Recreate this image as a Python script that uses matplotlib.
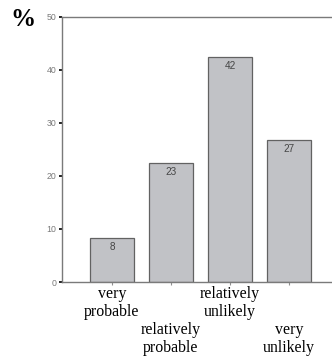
import matplotlib
matplotlib.use("Agg")
import matplotlib.pyplot as plt

categories = ["very\nprobable", "\n\nrelatively\nprobable", "relatively\nunlikely", "\n\nvery\nunlikely"]
values = [8.3, 22.4, 42.4, 26.7]
value_labels = ["8", "23", "42", "27"]
yticks = [0, 10, 20, 30, 40, 50]

fig = plt.figure(figsize=(3.32, 3.58), dpi=100)
ax = fig.add_axes([62/332, (358-282)/358, 1 - 62/332, (282-16.5)/358])

x = list(range(len(values)))
bars = ax.bar(x, values, width=0.76, color="#c1c2c6", edgecolor="#626262", linewidth=0.9)
for xi, v, lab in zip(x, values, value_labels):
    ax.text(xi, v - 1.7, lab, ha="center", va="center", fontsize=7.2,
            color="#454545", family="Liberation Sans")

ax.set_xlim(-0.847, 3.729)
ax.set_ylim(0, 50)
ax.set_yticks(yticks)
ax.set_yticklabels([str(t) for t in yticks], fontsize=6.3, color="#7a7a7a", family="Liberation Sans")
ax.set_xticks(x)
ax.set_xticklabels(categories, fontsize=11.4, family="Liberation Serif", color="black",
                   linespacing=1.15)
ax.tick_params(axis="y", length=2, width=1.2, color="black", pad=2)
ax.tick_params(axis="x", length=2, width=0.8, color="#909090", pad=1)

for s in ["left", "bottom", "top"]:
    ax.spines[s].set_color("#7a7a7a")
    ax.spines[s].set_linewidth(1.0)
ax.spines["right"].set_visible(False)

fig.text(10/332, 1 - 19/358, "%", fontsize=18, fontweight="bold", family="Liberation Serif",
         ha="left", va="center")

fig.savefig("out.png", dpi=100)
